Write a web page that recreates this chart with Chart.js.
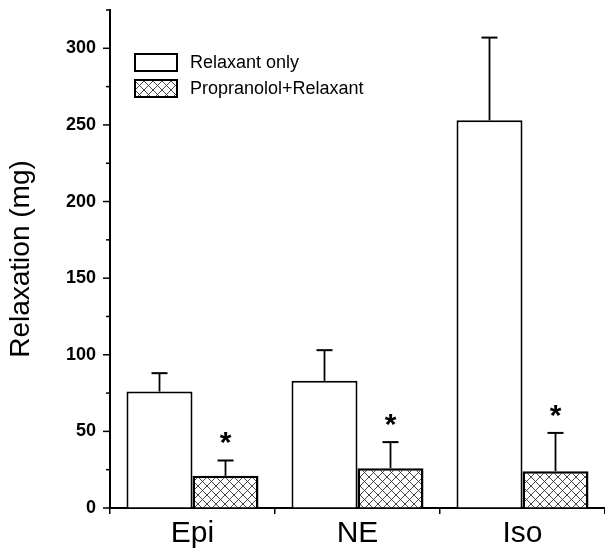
<!DOCTYPE html>
<html>
<head>
<meta charset="utf-8">
<script src="https://cdn.jsdelivr.net/npm/chart.js@4.4.1/dist/chart.umd.min.js"></script>
<style>
  body { margin: 0; background: #fff; }
  #wrap { width: 605px; height: 550px; }
</style>
</head>
<body>
<div id="wrap"><canvas id="canvas" width="605" height="550"></canvas></div>
<script>
// values
const categories = ['Epi', 'NE', 'Iso'];
const relaxantOnly = [76, 83, 253];
const relaxantOnlyErr = [12, 20, 54];
const propranololRelaxant = [21, 26, 24];
const propranololRelaxantErr = [10, 17, 25];
const significant = [true, true, true];
const seriesLabels = ['Relaxant only', 'Propranolol+Relaxant'];

const FONT = "'Liberation Sans', Arial, Helvetica, sans-serif";

const ctx = document.getElementById('canvas').getContext('2d');

function makeHatch() {
    var tile = document.createElement('canvas');
    tile.width = 9;
    tile.height = 9;
    var g = tile.getContext('2d');
    g.fillStyle = '#fff';
    g.fillRect(0, 0, 9, 9);
    g.strokeStyle = '#333';
    g.lineWidth = 0.9;
    g.beginPath();
    g.moveTo(0, 0); g.lineTo(9, 9);
    g.moveTo(9, 0); g.lineTo(0, 9);
    g.stroke();
    return ctx.createPattern(tile, 'repeat');
}
const hatch = makeHatch();

const errors = [relaxantOnlyErr, propranololRelaxantErr];

// error bars + significance stars
const errorBarPlugin = {
    id: 'errorBars',
    afterDatasetsDraw(chart) {
        const c = chart.ctx;
        const y = chart.scales.y;
        c.save();
        c.strokeStyle = '#000';
        chart.data.datasets.forEach((ds, i) => {
            const meta = chart.getDatasetMeta(i);
            meta.data.forEach((bar, j) => {
                const top = y.getPixelForValue(ds.data[j] + errors[i][j]);
                c.lineWidth = 1.8;
                c.beginPath();
                c.moveTo(bar.x, bar.y);
                c.lineTo(bar.x, top);
                c.stroke();
                c.lineWidth = 2;
                c.beginPath();
                c.moveTo(bar.x - 8, top);
                c.lineTo(bar.x + 8, top);
                c.stroke();
                if (i === 1 && significant[j]) {
                    c.fillStyle = '#000';
                    c.font = 'bold 30px ' + FONT;
                    c.textAlign = 'center';
                    c.textBaseline = 'alphabetic';
                    c.fillText('*', bar.x, top - 8);
                }
            });
        });
        c.restore();
    }
};

// major / minor ticks on the y axis
const yTickPlugin = {
    id: 'yTicks',
    afterDraw(chart) {
        const c = chart.ctx;
        const y = chart.scales.y;
        const x0 = chart.chartArea.left;
        c.save();
        c.strokeStyle = '#000';
        c.lineWidth = 1.5;
        y.ticks.forEach(t => {
            const py = y.getPixelForValue(t.value);
            const len = t.value % 50 === 0 ? 7 : 4;
            c.beginPath();
            c.moveTo(x0 - len, py);
            c.lineTo(x0, py);
            c.stroke();
        });
        c.restore();
    }
};

// legend inside the plot
const legendPlugin = {
    id: 'boxLegend',
    afterDraw(chart) {
        const c = chart.ctx;
        const area = chart.chartArea;
        c.save();
        chart.data.datasets.forEach((ds, i) => {
            const bx = area.left + 25;
            const by = area.top + 44 + i * 26;
            c.fillStyle = ds.backgroundColor;
            c.fillRect(bx, by, 42, 17);
            c.lineWidth = 2;
            c.strokeStyle = '#000';
            c.strokeRect(bx, by, 42, 17);
            c.fillStyle = '#000';
            c.font = '18px ' + FONT;
            c.textAlign = 'left';
            c.textBaseline = 'middle';
            c.fillText(ds.label, bx + 55, by + 9);
        });
        c.restore();
    }
};

new Chart(ctx, {
    type: 'bar',
    data: {
        labels: categories,
        datasets: [
            {
                label: seriesLabels[0],
                data: relaxantOnly,
                backgroundColor: '#fff',
                borderColor: '#000',
                borderWidth: 2,
                barPercentage: 1,
                categoryPercentage: 0.8
            },
            {
                label: seriesLabels[1],
                data: propranololRelaxant,
                backgroundColor: hatch,
                borderColor: '#000',
                borderWidth: 2.5,
                barPercentage: 1,
                categoryPercentage: 0.8
            }
        ]
    },
    options: {
        responsive: false,
        animation: false,
        layout: {
            padding: { top: 10, right: 0, left: 0, bottom: 0 }
        },
        plugins: {
            legend: { display: false },
            tooltip: { enabled: false }
        },
        scales: {
            x: {
                grid: {
                    drawOnChartArea: false,
                    offset: true,
                    color: '#000',
                    lineWidth: 1.5,
                    tickLength: 6
                },
                border: { color: '#000', width: 2 },
                ticks: {
                    color: '#000',
                    font: { family: FONT, size: 30 },
                    padding: 2
                },
                afterFit: function(scale) {
                    scale.height = 42;
                    scale.paddingLeft = 0;
                    scale.paddingRight = 0;
                }
            },
            y: {
                min: 0,
                max: 325,
                ticks: {
                    stepSize: 25,
                    callback: v => (v % 50 === 0 ? v : ''),
                    color: '#000',
                    font: { family: FONT, size: 18, weight: 'bold' },
                    padding: 14
                },
                grid: { drawOnChartArea: false, drawTicks: false },
                border: { color: '#000', width: 2 },
                title: {
                    display: true,
                    text: 'Relaxation (mg)',
                    color: '#000',
                    font: { family: FONT, size: 28 },
                    padding: { top: 4, bottom: 0 }
                },
                afterFit: function(scale) {
                    scale.width = 110;
                    scale.paddingTop = 0;
                    scale.paddingBottom = 0;
                }
            }
        }
    },
    plugins: [errorBarPlugin, yTickPlugin, legendPlugin]
});
</script>
</body>
</html>
